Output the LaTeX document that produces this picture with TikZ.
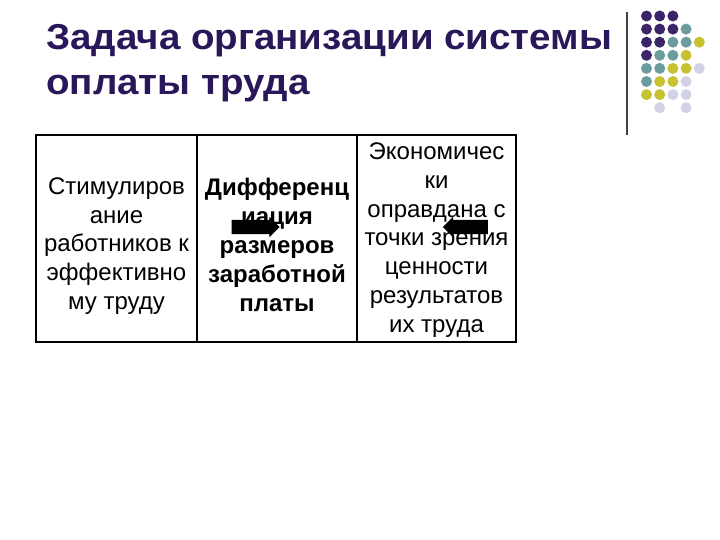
\documentclass[tikz,border=0pt]{standalone}
\usepackage{fontspec}
\setmainfont{Liberation Sans}
\newfontfamily\titlefont[FakeStretch=1.07]{Liberation Sans}
\usepackage{tikz}
\usetikzlibrary{shapes.arrows}
\definecolor{titlecol}{HTML}{2A175A}
\definecolor{dotpurple}{HTML}{3B2469}
\definecolor{dotteal}{HTML}{6B9C9E}
\definecolor{dotyellow}{HTML}{C6C232}
\definecolor{dotlav}{HTML}{D2D2E6}
\tikzstyle{celltext}=[align=center,inner sep=0pt,font=\fontsize{24bp}{28.8bp}\selectfont]
\tikzstyle{blockarrow}=[single arrow,fill=black,draw=none,inner xsep=0pt,inner ysep=7bp,single arrow head extend=3bp]

\begin{document}
\begin{tikzpicture}[x=1bp,y=-1bp]
\useasboundingbox[fill=white] (0,0) rectangle (720,540);
% title
\node [anchor=north west,inner sep=0pt,align=left,text=titlecol,
	font=\titlefont\fontsize{36bp}{45bp}\selectfont\bfseries] (title) at (46,24)
	{Задача организации системы\\оплаты труда};
% corner decoration
\draw [line width=1.5bp,black!75] (627,12) -- (627,135);
\foreach \r/\n in {0/2,1/3,2/4,3/3,4/4,5/3,6/3}
	\foreach \c in {0,...,\n} {
		\pgfmathtruncatemacro{\s}{\r+\c}
		\ifnum\s<4 \def\col{dotpurple}\else\ifnum\s<6 \def\col{dotteal}\else\ifnum\s<8 \def\col{dotyellow}\else\def\col{dotlav}\fi\fi\fi
		\fill [\col] (646.5+13.2*\c,16+13.1*\r) circle (5.5bp);
	}
\foreach \c in {1,3}
	\fill [dotlav] (646.5+13.2*\c,16+13.1*7) circle (5.5bp);
% table
\draw [line width=1.5bp] (36,135) rectangle (516,342);
\draw [line width=1.2bp] (197,135) -- (197,342);
\draw [line width=1.2bp] (357,135) -- (357,342);
% left cell
\node [celltext] (stimul) at (116.5,246)
	{Стимулиров\\ание\\работников к\\эффективно\\му труду};
% middle cell
\node [celltext,font=\fontsize{24bp}{28.8bp}\selectfont\bfseries] (differ) at (277,245)
	{Дифференц\\иация\\размеров\\заработной\\платы};
% right cell
\node [celltext] (econom) at (436.5,240)
	{Экономичес\\ки\\оправдана с\\точки зрения\\ценности\\результатов\\их труда};
% arrows
\node [blockarrow,minimum height=48bp] (arrowr) at (252,227) {};
\node [blockarrow,minimum height=45bp,shape border rotate=180] (arrowl) at (469,227) {};
\end{tikzpicture}
\end{document}
